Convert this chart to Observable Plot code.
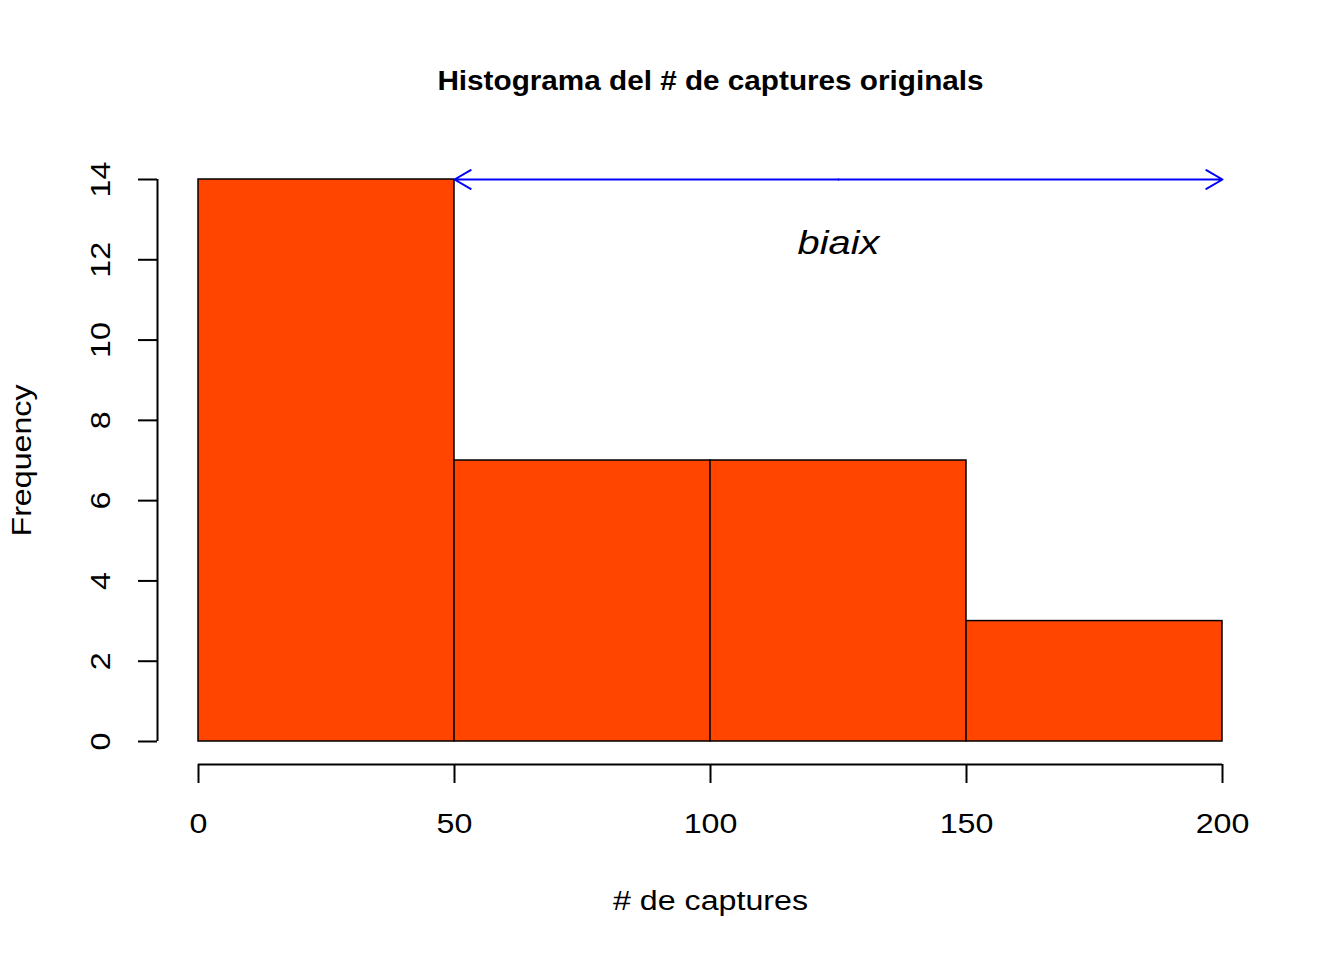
<!DOCTYPE html>
<html>
<head>
<meta charset="utf-8">
<script src="https://cdn.jsdelivr.net/npm/d3@7"></script>
<script src="https://cdn.jsdelivr.net/npm/@observablehq/plot@0.6"></script>
<style>
  html, body { margin: 0; padding: 0; background: #ffffff; }
  #chart { width: 1344px; height: 960px; }
</style>
</head>
<body>
<div id="chart"></div>
<script>
// ---- data ----
const binStart = [0, 50, 100, 150];
const binEnd = [50, 100, 150, 200];
const counts = [14, 7, 7, 3];
const xTicks = [0, 50, 100, 150, 200];
const yTicks = [0, 2, 4, 6, 8, 10, 12, 14];
const arrowX = [50, 200];   // double-headed arrow from .. to
const arrowY = 14;
const noteX = 125, noteY = 12.5, noteText = "biaix";
const titleText = "Histograma del # de captures originals";
const xLabel = "# de captures";
const yLabel = "Frequency";

const bins = binStart.map((s, i) => ({x0: s, x1: binEnd[i], count: counts[i]}));
const mid = (arrowX[0] + arrowX[1]) / 2;
const arrows = [
  {x1: mid, x2: arrowX[1], y: arrowY},
  {x1: mid, x2: arrowX[0], y: arrowY}
];

const font = "'Liberation Sans', Arial, sans-serif";

const chart = Plot.plot({
  width: 1344,
  height: 960,
  marginLeft: 198,
  marginRight: 122,
  marginTop: 179,
  marginBottom: 219,
  x: {domain: [0, 200], axis: null},
  y: {domain: [0, 14], axis: null},
  style: {fontFamily: font, background: "#ffffff", color: "black"},
  marks: [
    Plot.rectY(bins, {x1: "x0", x2: "x1", y: "count", fill: "#FF4500", stroke: "black", strokeWidth: 1.5}),
    // y axis
    Plot.ruleX([0], {y1: 0, y2: 14, dx: -41, stroke: "black", strokeWidth: 2}),
    Plot.ruleY(yTicks, {y: d => d, x1: 0, x2: 0, insetLeft: -60, insetRight: 41, stroke: "black", strokeWidth: 2}),
    Plot.text(yTicks, {y: d => d, frameAnchor: "left", dx: -97, rotate: -90, text: d => String(d), fontSize: 28, textAnchor: "middle", lineAnchor: "middle", fill: "black"}),
    // x axis
    Plot.ruleY([0], {x1: 0, x2: 200, dy: 23, stroke: "black", strokeWidth: 2}),
    Plot.ruleX(xTicks, {x: d => d, y1: 0, y2: 0, insetTop: 23, insetBottom: -42, stroke: "black", strokeWidth: 2}),
    Plot.text(xTicks, {x: d => d, frameAnchor: "bottom", dy: 83, text: d => String(d), fontSize: 28, textAnchor: "middle", lineAnchor: "middle", fill: "black"}),
    // arrow
    Plot.arrow(arrows, {x1: "x1", x2: "x2", y1: "y", y2: "y", stroke: "blue", strokeWidth: 2, headLength: 14, headAngle: 60}),
    Plot.text([noteText], {x: () => noteX, y: () => noteY, dy: 3, text: d => d, fontSize: 34, fontStyle: "italic", textAnchor: "middle", fill: "black", lineAnchor: "middle"}),
    // titles
    Plot.text([titleText], {frameAnchor: "top", dy: -98, text: d => d, fontSize: 27, fontWeight: "bold", textAnchor: "middle", lineAnchor: "middle", fill: "black"}),
    Plot.text([xLabel], {frameAnchor: "bottom", dy: 160, text: d => d, fontSize: 28, textAnchor: "middle", lineAnchor: "middle", fill: "black"}),
    Plot.text([yLabel], {frameAnchor: "left", dx: -176, rotate: -90, text: d => d, fontSize: 28, textAnchor: "middle", lineAnchor: "middle", fill: "black"})
  ]
});

// widen glyphs horizontally to match the reference's wide rendering
chart.querySelectorAll("text").forEach(t => {
  const s = t.textContent === titleText ? 1.1 : (t.textContent === noteText ? 1.17 : 1.15);
  const tr = t.getAttribute("transform");
  if (tr) {
    t.setAttribute("transform", tr + ` scale(${s},1)`);
  } else {
    const x = +t.getAttribute("x") || 0, y = +t.getAttribute("y") || 0;
    t.setAttribute("transform", `translate(${x},${y}) scale(${s},1) translate(${-x},${-y})`);
  }
});

document.getElementById("chart").appendChild(chart);
</script>
</body>
</html>
